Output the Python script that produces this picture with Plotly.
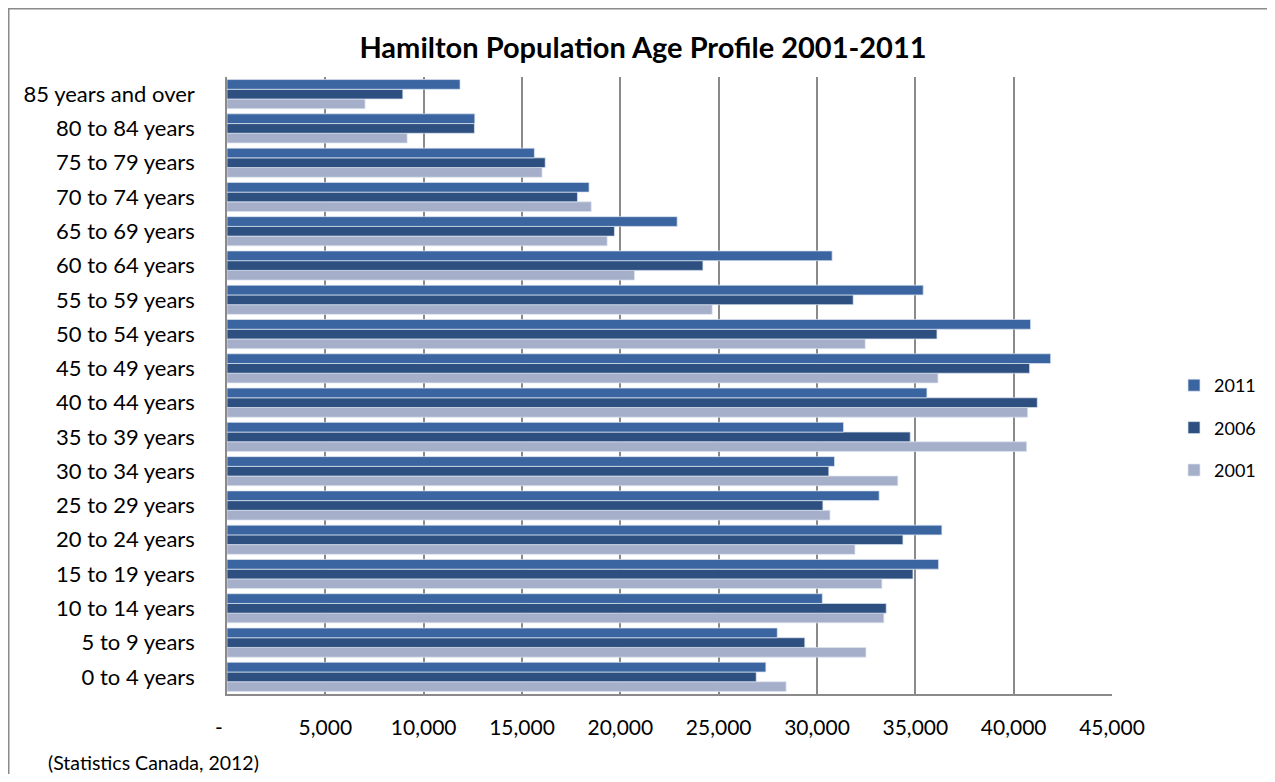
import plotly.graph_objects as go

categories = ["0 to 4 years", "5 to 9 years", "10 to 14 years", "15 to 19 years",
              "20 to 24 years", "25 to 29 years", "30 to 34 years", "35 to 39 years",
              "40 to 44 years", "45 to 49 years", "50 to 54 years", "55 to 59 years",
              "60 to 64 years", "65 to 69 years", "70 to 74 years", "75 to 79 years",
              "80 to 84 years", "85 years and over"]

pop_2011 = [27400, 27980, 30270, 36180, 36350, 33160, 30890, 31350, 35590, 41880,
            40860, 35400, 30770, 22890, 18410, 15630, 12600, 11850]
pop_2006 = [26910, 29380, 33520, 34880, 34370, 30300, 30600, 34740, 41200, 40810,
            36100, 31840, 24200, 19700, 17820, 16180, 12580, 8940]
pop_2001 = [28430, 32490, 33400, 33300, 31930, 30660, 34110, 40660, 40710, 36150,
            32450, 24670, 20720, 19330, 18520, 16020, 9160, 7020]

x_tickvals = [0, 5000, 10000, 15000, 20000, 25000, 30000, 35000, 40000, 45000]
x_ticktext = ["-\u00a0\u00a0\u00a0", "5,000", "10,000", "15,000", "20,000", "25,000",
              "30,000", "35,000", "40,000", "45,000"]

FONT = "Lato, 'Open Sans', sans-serif"
# page has an 8px body margin; figure sized so it fits the window exactly
OFF = 8
W, H = 1275 - 2 * OFF, 782 - 2 * OFF
L, T = 227 - OFF, 77 - OFF
PR, PB = 1112 - OFF, 694 - OFF
R, B = W - PR, H - PB

series = [("2001", pop_2001, "#A5AFC9", 3),
          ("2006", pop_2006, "#2E5081", 2),
          ("2011", pop_2011, "#3A65A0", 1)]

fig = go.Figure()
for name, vals, col, rank in series:
    fig.add_trace(go.Bar(
        y=categories, x=vals, name=name, orientation="h",
        marker=dict(color=col, line=dict(color="rgba(220,228,240,0.9)", width=0.8)),
        legendgroup=name, legendrank=rank,
    ))

pw = W - L - R
ph = H - T - B

def px2x(p):
    return (p - OFF - L) / pw

def py2y(p):
    return (H - B - (p - OFF)) / ph

fig.update_layout(
    width=W, height=H,
    margin=dict(l=L, r=R, t=T, b=B, autoexpand=False),
    paper_bgcolor="white", plot_bgcolor="white",
    barmode="group", bargap=0.15, bargroupgap=0.0,
    font=dict(family=FONT, size=22, color="black"),
    title=dict(text="<b>Hamilton Population Age Profile 2001-2011</b>",
               x=(643 - OFF) / W, xanchor="center", y=1 - (48 - OFF) / H, yanchor="middle",
               font=dict(family=FONT, size=29, color="black")),
    legend=dict(x=px2x(1174), y=py2y(428), xanchor="left", yanchor="middle",
                traceorder="grouped", tracegroupgap=16,
                font=dict(family=FONT, size=18), bgcolor="rgba(0,0,0,0)"),
    xaxis=dict(range=[0, 45000], tickvals=x_tickvals, ticktext=x_ticktext,
               showgrid=True, gridcolor="#8A8A8A", gridwidth=1.5,
               showline=True, linecolor="#8A8A8A", linewidth=1.5,
               zeroline=False, ticks="", ticklabelstandoff=14,
               tickfont=dict(family=FONT, size=21)),
    yaxis=dict(type="category", categoryorder="array", categoryarray=categories,
               showgrid=False, showline=True, linecolor="#8A8A8A", linewidth=1.5,
               ticks="", ticklabelstandoff=26, zeroline=False,
               tickfont=dict(family=FONT, size=22)),
)

fig.add_shape(type="rect", xref="paper", yref="paper",
              x0=px2x(OFF + 0.75), x1=px2x(1400), y0=py2y(900), y1=py2y(OFF + 0.75),
              line=dict(color="#8A8A8A", width=1.5), fillcolor="rgba(0,0,0,0)",
              layer="below")

fig.add_annotation(text="(Statistics Canada, 2012)", xref="paper", yref="paper",
                   x=px2x(46), y=py2y(762), xanchor="left", yanchor="middle",
                   showarrow=False, font=dict(family=FONT, size=19.5, color="black"))

fig.write_html("out.html")
